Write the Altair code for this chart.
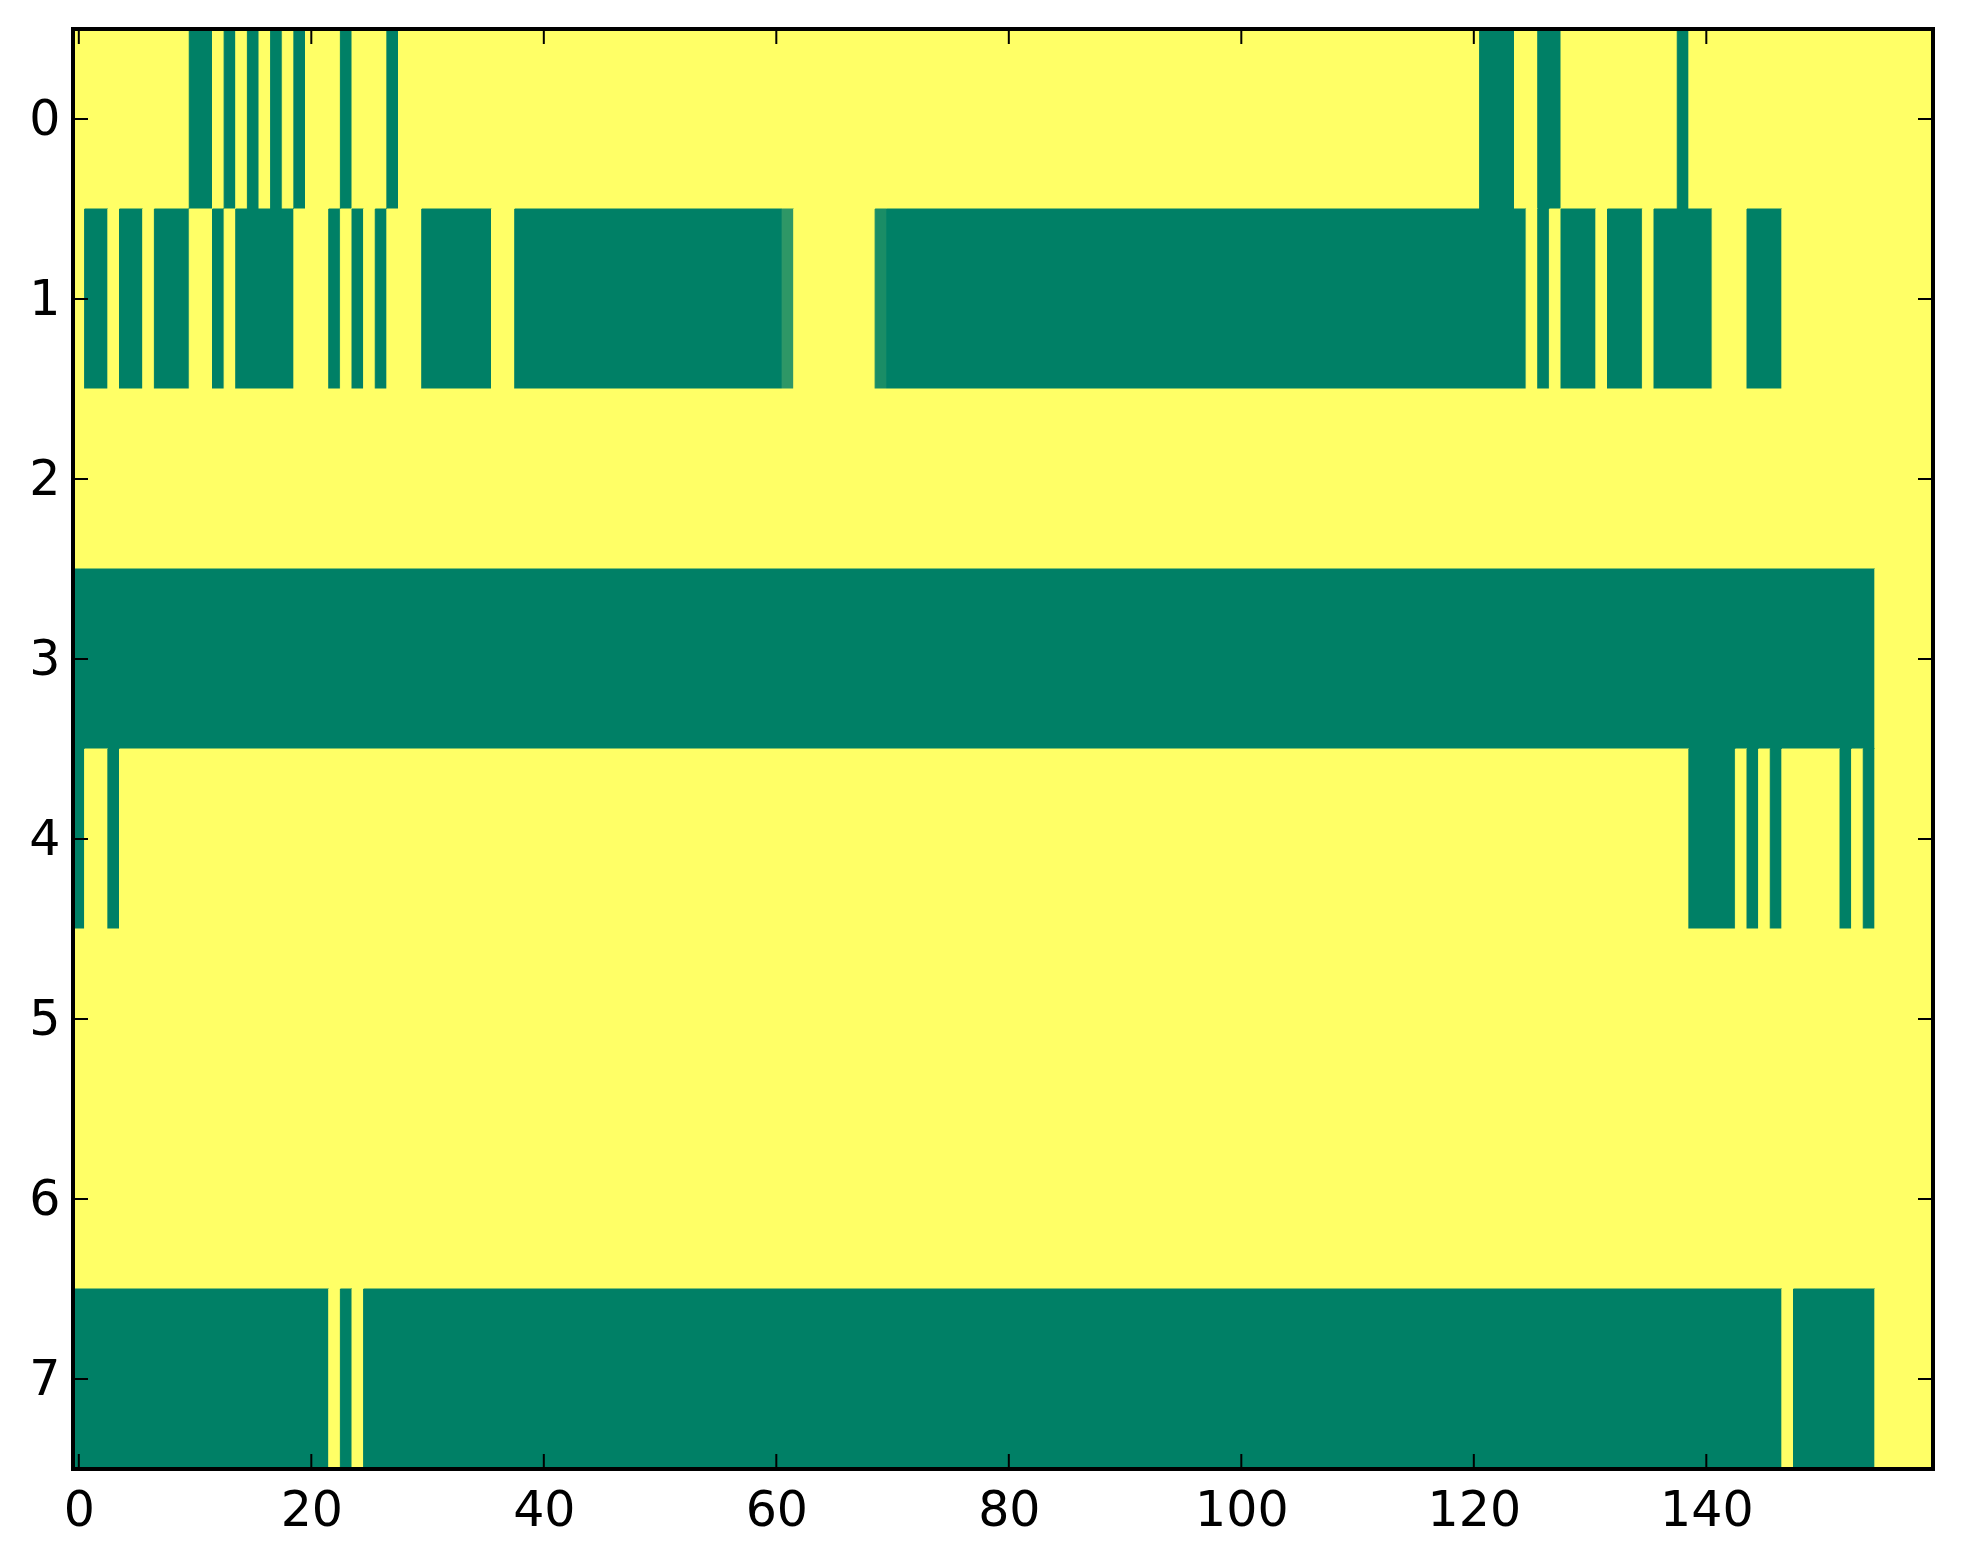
import altair as alt
import pandas as pd

N_COLS = 160
N_ROWS = 8

# Green (value 0) column spans per row, inclusive; everything else is 1 (yellow)
green_spans = {
    0: [(10, 11), (13, 13), (15, 15), (17, 17), (19, 19), (23, 23), (27, 27),
        (121, 123), (126, 127), (138, 138)],
    1: [(1, 2), (4, 5), (7, 9), (12, 12), (14, 18), (22, 22), (24, 24), (26, 26),
        (30, 35), (38, 60), (70, 124), (126, 126), (128, 130), (132, 134),
        (136, 140), (144, 146)],
    2: [],
    3: [(0, 154)],
    4: [(0, 0), (3, 3), (139, 142), (144, 144), (146, 146), (152, 152), (154, 154)],
    5: [],
    6: [],
    7: [(0, 21), (23, 23), (25, 146), (148, 154)],
}
# Cells with intermediate values (row, col) -> value
partial_cells = {(1, 61): 0.18, (1, 69): 0.10}

x_ticks = [0, 20, 40, 60, 80, 100, 120, 140]
y_ticks = [0, 1, 2, 3, 4, 5, 6, 7]

# Build matrix
matrix = [[1.0] * N_COLS for _ in range(N_ROWS)]
for r, spans in green_spans.items():
    for a, b in spans:
        for c in range(a, b + 1):
            matrix[r][c] = 0.0
for (r, c), v in partial_cells.items():
    matrix[r][c] = v

# Run-length encode each row into rectangles
records = []
for r in range(N_ROWS):
    start = 0
    for c in range(1, N_COLS + 1):
        if c == N_COLS or matrix[r][c] != matrix[r][start]:
            records.append({"x0": start - 0.5, "x1": c - 0.5,
                            "y0": r - 0.5, "y1": r + 0.5,
                            "v": matrix[r][start]})
            start = c
df = pd.DataFrame(records)

W, H = 1860, 1440
TICK = 15

xs = alt.Scale(domain=[-0.5, N_COLS - 0.5], nice=False, zero=False)
ys = alt.Scale(domain=[-0.5, N_ROWS - 0.5], nice=False, zero=False, reverse=True)
cs = alt.Scale(domain=[0, 1], range=["#008066", "#ffff66"], interpolate="rgb")

axis_common = dict(title=None, ticks=False, domain=False, grid=False,
                   labelFontSize=49, labelFont="DejaVu Sans", labelColor="black",
                   labelOverlap=False, labelFlush=False, format="d")
x_axis = alt.Axis(values=x_ticks, labelPadding=17, **axis_common)
y_axis = alt.Axis(values=y_ticks, labelPadding=13, **axis_common)

cells = alt.Chart(df).mark_rect(strokeWidth=1).encode(
    x=alt.X("x0:Q", scale=xs, axis=x_axis),
    x2="x1:Q",
    y=alt.Y("y0:Q", scale=ys, axis=y_axis),
    y2="y1:Q",
    color=alt.Color("v:Q", scale=cs, legend=None),
    stroke=alt.Stroke("v:Q", scale=cs, legend=None),
)

xt = pd.DataFrame({"t": x_ticks})
yt = pd.DataFrame({"t": y_ticks})

tick_style = dict(color="black", strokeWidth=2)

xb = alt.Chart(xt).mark_rule(**tick_style).encode(
    x=alt.X("t:Q", scale=xs, axis=x_axis), y=alt.value(H), y2=alt.value(H - TICK))
xtop = alt.Chart(xt).mark_rule(**tick_style).encode(
    x=alt.X("t:Q", scale=xs, axis=x_axis), y=alt.value(0), y2=alt.value(TICK))
yl = alt.Chart(yt).mark_rule(**tick_style).encode(
    y=alt.Y("t:Q", scale=ys, axis=y_axis), x=alt.value(0), x2=alt.value(TICK))
yr = alt.Chart(yt).mark_rule(**tick_style).encode(
    y=alt.Y("t:Q", scale=ys, axis=y_axis), x=alt.value(W), x2=alt.value(W - TICK))

frame = alt.Chart(xt).mark_rect(filled=False, stroke="black", strokeWidth=4).encode(
    x=alt.value(0), x2=alt.value(W), y=alt.value(0), y2=alt.value(H))

chart = alt.layer(cells, xb, xtop, yl, yr, frame).properties(
    width=W, height=H,
    autosize=alt.AutoSizeParams(type="none"),
    padding={"left": 65, "top": 21, "right": 20, "bottom": 80},
).configure_view(stroke=None).configure(background="white")

chart.save("out.html", embed_options={"renderer": "svg", "actions": False})
